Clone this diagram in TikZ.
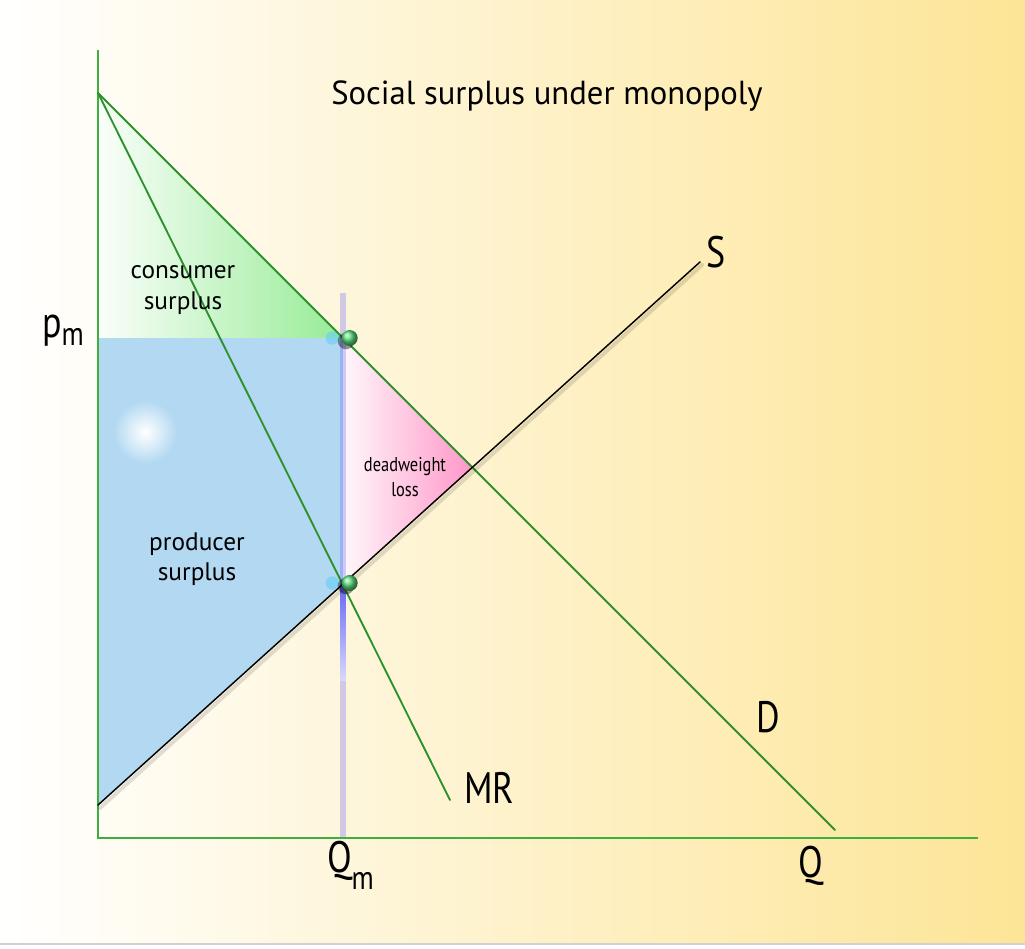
\documentclass[tikz,border=0pt]{standalone}
\usepackage{fontspec}
\setmainfont{PT Sans}
\begin{document}
\begin{tikzpicture}[x=0.75pt,y=-0.75pt]
\definecolor{bgYellow}{RGB}{253,229,150}
\definecolor{axisGreen}{RGB}{60,175,60}
\definecolor{curveGreen}{RGB}{45,145,45}
\definecolor{csGreen}{RGB}{150,236,150}
\definecolor{psBlue}{RGB}{178,216,242}
\definecolor{dwlPink}{RGB}{255,150,200}
\definecolor{qBlue}{RGB}{100,100,245}
\definecolor{dotGreen}{RGB}{60,215,100}
\tikzset{
  curve/.style={draw=curveGreen,line width=1.4pt,line cap=round},
  axisline/.style={draw=axisGreen,line width=1.6pt},
  lbl/.style={inner sep=0pt,outer sep=0pt,font=\fontsize{33}{33}\selectfont,xscale=0.82},
  area/.style={inner sep=0pt,outer sep=0pt,align=center,font=\fontsize{19}{23}\selectfont},
  eqdot/.style={ball color=dotGreen!85!white},
}
\path[use as bounding box] (0,0) rectangle (1025,949);

\shade[left color=white,middle color=bgYellow!45,right color=bgYellow] (0,0) rectangle (1025,943);

\path[draw=black!18,line width=1.5pt] (0,944) -- (1025,944);

\coordinate (O) at (98,838);
\coordinate (Ytop) at (98,50);
\coordinate (Xend) at (978,838);
\coordinate (Dtop) at (98,93);
\coordinate (Dend) at (835,830);
\coordinate (MRend) at (450,800);
\coordinate (Sbot) at (98,805);
\coordinate (Stop) at (700,262);
\coordinate (Pm) at (98,338);
\coordinate (A) at (343,338);
\coordinate (E) at (473,468);
\coordinate (B) at (343,583);
\coordinate (Qtop) at (343,293);
\coordinate (Qm) at (343,838);
\coordinate (Bfade) at (343,680);

\shade[left color=csGreen!5,middle color=csGreen!95,right color=csGreen] (Dtop) -- (A) -- (Pm) -- cycle;

\fill[psBlue] (Pm) -- (A) -- (B) -- (Sbot) -- cycle;

\shade[inner color=white,outer color=psBlue] (145,432) circle[radius=24pt];

\shade[left color=dwlPink!8,right color=dwlPink] (A) -- (E) -- (B) -- cycle;

\path[draw=qBlue,line width=4.5pt,opacity=0.3] (Qtop) -- (Qm);

\shade[top color=qBlue,bottom color=qBlue!25] ([xshift=-2.2pt]B) rectangle ([xshift=2.2pt]Bfade);

\path[axisline] (Ytop) -- (O) -- (Xend);

\path[curve] (Dtop) -- (Dend);

\path[curve] (Dtop) -- (MRend);

\path[draw=black,line width=3pt,opacity=0.12,line cap=round] ([shift={(2,3)}]Sbot) -- ([shift={(2,3)}]Stop);

\path[draw=black,line width=1.1pt,line cap=round] (Sbot) -- (Stop);

\fill[cyan!60,opacity=0.6] ([xshift=-8]A) circle[radius=5pt];

\fill[black,opacity=0.4] ([shift={(3,3)}]A) circle[radius=6.2pt];

\shade[eqdot] ([xshift=5]A) circle[radius=6pt];

\fill[cyan!60,opacity=0.6] ([xshift=-8]B) circle[radius=5pt];

\fill[black,opacity=0.4] ([shift={(3,3)}]B) circle[radius=6.2pt];

\shade[eqdot] ([xshift=5]B) circle[radius=6pt];

\node[inner sep=0pt,anchor=base,font=\fontsize{25}{25}\selectfont,xscale=0.98] (title) at (547,104) {Social surplus under monopoly};

\node[area] (cs) at (183,290) {consumer\\surplus};

\node[area] (ps) at (197,559) {producer\\surplus};

\node[area,font=\fontsize{15}{19}\selectfont,xscale=0.82] (dwl) at (405,477) {deadweight\\loss};

\node[lbl,anchor=base] (labS) at (716,267) {S};

\node[lbl,anchor=base] (labD) at (768,732) {D};

\node[lbl,anchor=base west] (labMR) at (464,803) {MR};

\node[lbl,anchor=base] (labQ) at (811,877) {Q};

\node[lbl,anchor=base west] (labQm) at (327,872) {Q\raisebox{-13pt}{\fontsize{25}{25}\selectfont m}};

\node[lbl,anchor=base west] (labPm) at (42,337) {p\raisebox{-6pt}{\fontsize{25}{25}\selectfont m}};
\end{tikzpicture}
\end{document}
